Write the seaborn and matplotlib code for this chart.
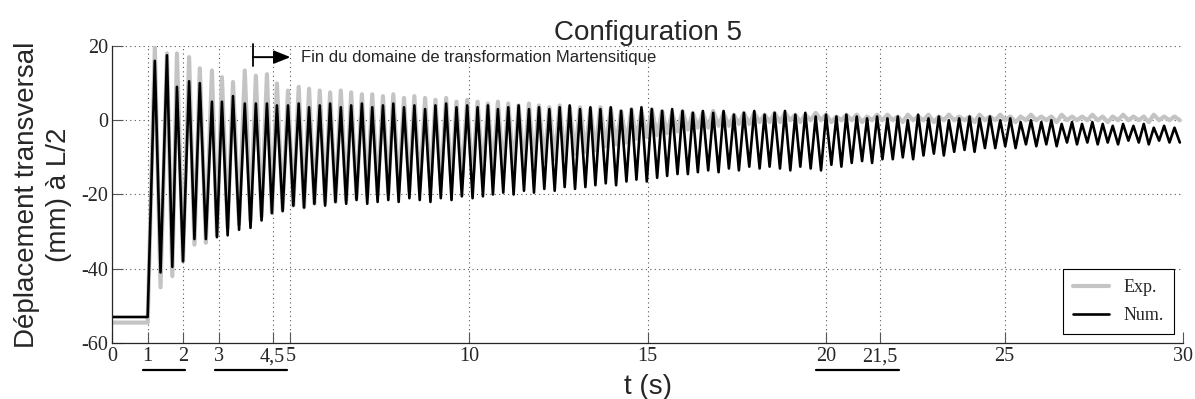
import pandas as pd
import matplotlib.pyplot as plt
from matplotlib.lines import Line2D
import seaborn as sns

sns.set_style('ticks')
plt.rcParams['font.family'] = ['Liberation Sans', 'DejaVu Sans']
plt.rcParams['axes.unicode_minus'] = False

# values: rest position before the release at t = 1 s
t_start = [0.0, 1.0]
num_start = [-53.0, -53.0]
exp_start = [-54.5, -54.5]

# time of each maximum / minimum of the oscillation (s)
t_peak = [1.20, 1.54, 1.82, 2.16, 2.46, 2.80, 3.08, 3.39, 3.72, 4.03,
          4.34, 4.62, 4.93, 5.23, 5.52, 5.82, 6.11, 6.41, 6.70, 7.00,
          7.29, 7.59, 7.88, 8.18, 8.47, 8.77, 9.06, 9.36, 9.65, 9.95,
          10.24, 10.53, 10.81, 11.10, 11.39, 11.68, 11.96, 12.25, 12.54, 12.82,
          13.11, 13.40, 13.68, 13.97, 14.26, 14.55, 14.83, 15.12, 15.41, 15.69,
          15.98, 16.27, 16.55, 16.84, 17.13, 17.42, 17.70, 17.99, 18.28, 18.56,
          18.85, 19.14, 19.42, 19.71, 20.00, 20.29, 20.57, 20.86, 21.15, 21.43,
          21.72, 22.01, 22.29, 22.58, 22.87, 23.16, 23.44, 23.73, 24.02, 24.30,
          24.59, 24.88, 25.16, 25.45, 25.74, 26.03, 26.31, 26.60, 26.89, 27.17,
          27.46, 27.75, 28.03, 28.32, 28.61, 28.90, 29.18, 29.47, 29.76]
t_trough = [1.36, 1.69, 1.99, 2.31, 2.63, 2.94, 3.24, 3.56, 3.88, 4.19,
            4.48, 4.78, 5.08, 5.38, 5.67, 5.97, 6.26, 6.56, 6.85, 7.15,
            7.44, 7.74, 8.03, 8.33, 8.62, 8.92, 9.21, 9.51, 9.80, 10.10,
            10.39, 10.67, 10.96, 11.25, 11.54, 11.82, 12.11, 12.40, 12.68, 12.97,
            13.26, 13.54, 13.83, 14.12, 14.41, 14.69, 14.98, 15.27, 15.55, 15.84,
            16.13, 16.41, 16.70, 16.99, 17.28, 17.56, 17.85, 18.14, 18.42, 18.71,
            19.00, 19.28, 19.57, 19.86, 20.15, 20.43, 20.72, 21.01, 21.29, 21.58,
            21.87, 22.15, 22.44, 22.73, 23.02, 23.30, 23.59, 23.88, 24.16, 24.45,
            24.74, 25.02, 25.31, 25.60, 25.89, 26.17, 26.46, 26.75, 27.03, 27.32,
            27.61, 27.89, 28.18, 28.47, 28.76, 29.04, 29.33, 29.62, 29.91]

# Num. (black)
num_peak = [16, 17.5, 9, 10.5, 10, 5, 5, 6.5, 4.5, 4.5,
            4.5, 4, 4, 4.5, 3.5, 4, 4.5, 3.5, 4, 4.5,
            3.5, 4, 4.5, 3.5, 4, 3, 4, 4.5, 3.5, 4,
            3.5, 4, 3, 3.5, 4, 3, 3.5, 3, 3.5, 4,
            3, 3.5, 3, 3.5, 2.5, 3, 3.5, 3, 2.5, 3,
            2.5, 2, 2.5, 2, 2.5, 1.5, 2, 2.5, 1.5, 2,
            2.5, 1.5, 2, 1, 1.5, 1, 1.5, 1, 0.5, 1,
            0.5, 1, 0, 1.5, 0.5, 1, 0, 0.5, 1, 0.5,
            1, 0, 0.5, -0.5, 0, -0.5, 0, -1, -0.5, -1,
            -0.5, -1, -1.5, -1, -1.5, -1, -2, -1.5, -2]
num_trough = [-41, -39.5, -38, -32, -32, -31.5, -31, -29.5, -29, -27,
              -25, -24.5, -23, -23.5, -22.5, -23, -22, -22.5, -21.5, -22.5,
              -22, -21.5, -22, -21, -21.5, -22, -21, -21.5, -20.5, -21,
              -20.5, -20, -19.5, -20, -19, -19.5, -18.5, -19, -18, -18.5,
              -18, -17.5, -17, -17.5, -16.5, -16, -16.5, -15.5, -15, -14.5,
              -14.5, -14, -13.5, -14, -13, -13.5, -12.5, -13, -12.5, -13,
              -13.5, -12.5, -13, -13.5, -12, -12.5, -11.5, -11, -11.5, -10.5,
              -10.5, -10, -10.5, -9.5, -9, -9.5, -8.5, -8, -8.5, -7.5,
              -7.5, -7, -7.5, -6.5, -7, -6.5, -7, -6, -6.5, -6,
              -6.5, -6, -6.5, -5.5, -6, -6.5, -5.5, -6, -6]

# Exp. (grey)
exp_peak = [19.6, 18, 18, 17, 14, 13.4, 11.6, 10.3, 13.4, 12,
            12.4, 9.9, 8, 9, 8.5, 8, 7.5, 8, 7.5, 7,
            7, 6.5, 7, 6, 6.5, 6, 5.5, 6, 5, 5.5,
            5, 4.5, 5, 4.5, 4, 4.5, 4, 3.5, 4, 3.5,
            3.5, 3, 3.5, 3, 2.5, 3, 2.5, 3, 2.5, 2,
            2.5, 2, 2, 2.5, 2, 1.5, 2, 2, 1.5, 2,
            2, 1.5, 1.5, 2, 1.5, 1, 1.5, 1.5, 1, 1.5,
            1.5, 1, 1.5, 1, 1.5, 1, 1.5, 1, 1, 1.5,
            1, 1.5, 1, 1, 1.5, 1, 1, 1.5, 1, 1,
            1.5, 1, 1, 1.5, 1, 1, 1.5, 1, 1]
exp_trough = [-45, -42, -38, -33.5, -33, -31, -29, -28, -27, -26,
              -25, -24, -23, -23.5, -22.5, -22, -22, -21.5, -21, -20.5,
              -20, -20, -19, -19, -18.5, -18, -17.5, -17, -16.5, -16,
              -15, -14, -13.5, -13, -12.5, -12, -11, -10.5, -10, -9,
              -8.5, -8, -7, -6.5, -6, -5, -4.5, -4, -3.5, -3,
              -2.5, -2, -2, -1.5, -1.5, -1, -1, -0.5, -0.5, -0.5,
              0, -0.5, 0, 0, -0.5, 0, 0, -0.5, 0, 0,
              0, -0.5, 0, 0, -0.5, 0, 0, 0, -0.5, 0,
              0, 0, -0.5, 0, 0, 0, -0.5, 0, 0, 0,
              0, -0.5, 0, 0, 0, -0.5, 0, 0, 0]

xticks = [0, 1, 2, 3, 4.5, 5, 10, 15, 20, 21.5, 25, 30]
xticklabels = ['0', '1', '2', '3', '4,5', '5', '10', '15', '20', '21,5', '25', '30']
yticks = [-60, -40, -20, 0, 20]
underlines = [(0.87, 2.05), (2.88, 4.9), (19.72, 22.04)]

colors = {'Exp.': '#c4c4c4', 'Num.': 'black'}
widths = {'Exp.': 3.0, 'Num.': 1.9}


def series(name, start, peaks, troughs):
    t, d = list(t_start), list(start)
    for a, b, p, q in zip(t_peak, t_trough, peaks, troughs):
        t += [a, b]
        d += [p, q]
    return pd.DataFrame({'t': t, 'd': d, 'serie': name})


df = pd.concat([series('Exp.', exp_start, exp_peak, exp_trough),
                series('Num.', num_start, num_peak, num_trough)],
               ignore_index=True)

fig, ax = plt.subplots(figsize=(11.95, 3.99), dpi=100)
fig.subplots_adjust(left=0.0937, right=0.99, top=0.8847, bottom=0.1404)

sns.lineplot(data=df, x='t', y='d', hue='serie', size='serie',
             palette=colors, sizes=widths, estimator=None, sort=False,
             legend=False, ax=ax)

ax.set_xlim(0, 30)
ax.set_ylim(-60, 20)
ax.set_xticks(xticks)
ax.set_xticklabels(xticklabels)
ax.set_yticks(yticks)
ax.tick_params(direction='in', length=8, width=0.8, color='#555555',
               labelsize=14.5, labelfontfamily='Liberation Serif', pad=3)
ax.grid(True, linestyle=(0, (1, 3)), color='#555555', lw=0.8)
sns.despine(ax=ax)
for s in ['left', 'bottom']:
    ax.spines[s].set_linewidth(0.9)

ax.set_title('Configuration 5', fontsize=20, pad=4)
ax.set_xlabel('t (s)', fontsize=20, labelpad=6)
ax.set_ylabel('Déplacement transversal\n(mm) à L/2', fontsize=20,
              linespacing=1.3)
ax.yaxis.set_label_coords(-0.037, 0.5)

# underline marks under the tick labels
for a, b in underlines:
    ax.plot([a, b], [-0.09, -0.09], color='black', lw=1.6,
            transform=ax.get_xaxis_transform(), clip_on=False)

# "end of martensitic transformation" marker
ax.plot([3.95, 3.95], [14.5, 20.5], color='black', lw=1.3, clip_on=False)
ax.annotate('', xy=(5.0, 17), xytext=(3.95, 17),
            arrowprops=dict(arrowstyle='-|>,head_length=1.0,head_width=0.4',
                            color='black', lw=1.4, shrinkA=0, shrinkB=0))
ax.text(5.3, 17, 'Fin du domaine de transformation Martensitique',
        fontsize=12, va='center', ha='left')

handles = [Line2D([], [], color=colors[k], lw=widths[k]) for k in colors]
leg = ax.legend(handles, list(colors), loc='lower right', fancybox=False,
                edgecolor='black', framealpha=1, handlelength=2.0,
                borderaxespad=0.5, borderpad=0.55, labelspacing=0.6,
                prop={'family': 'Liberation Serif', 'size': 13})
leg.get_frame().set_linewidth(0.8)

plt.savefig('out.png', dpi=100)
